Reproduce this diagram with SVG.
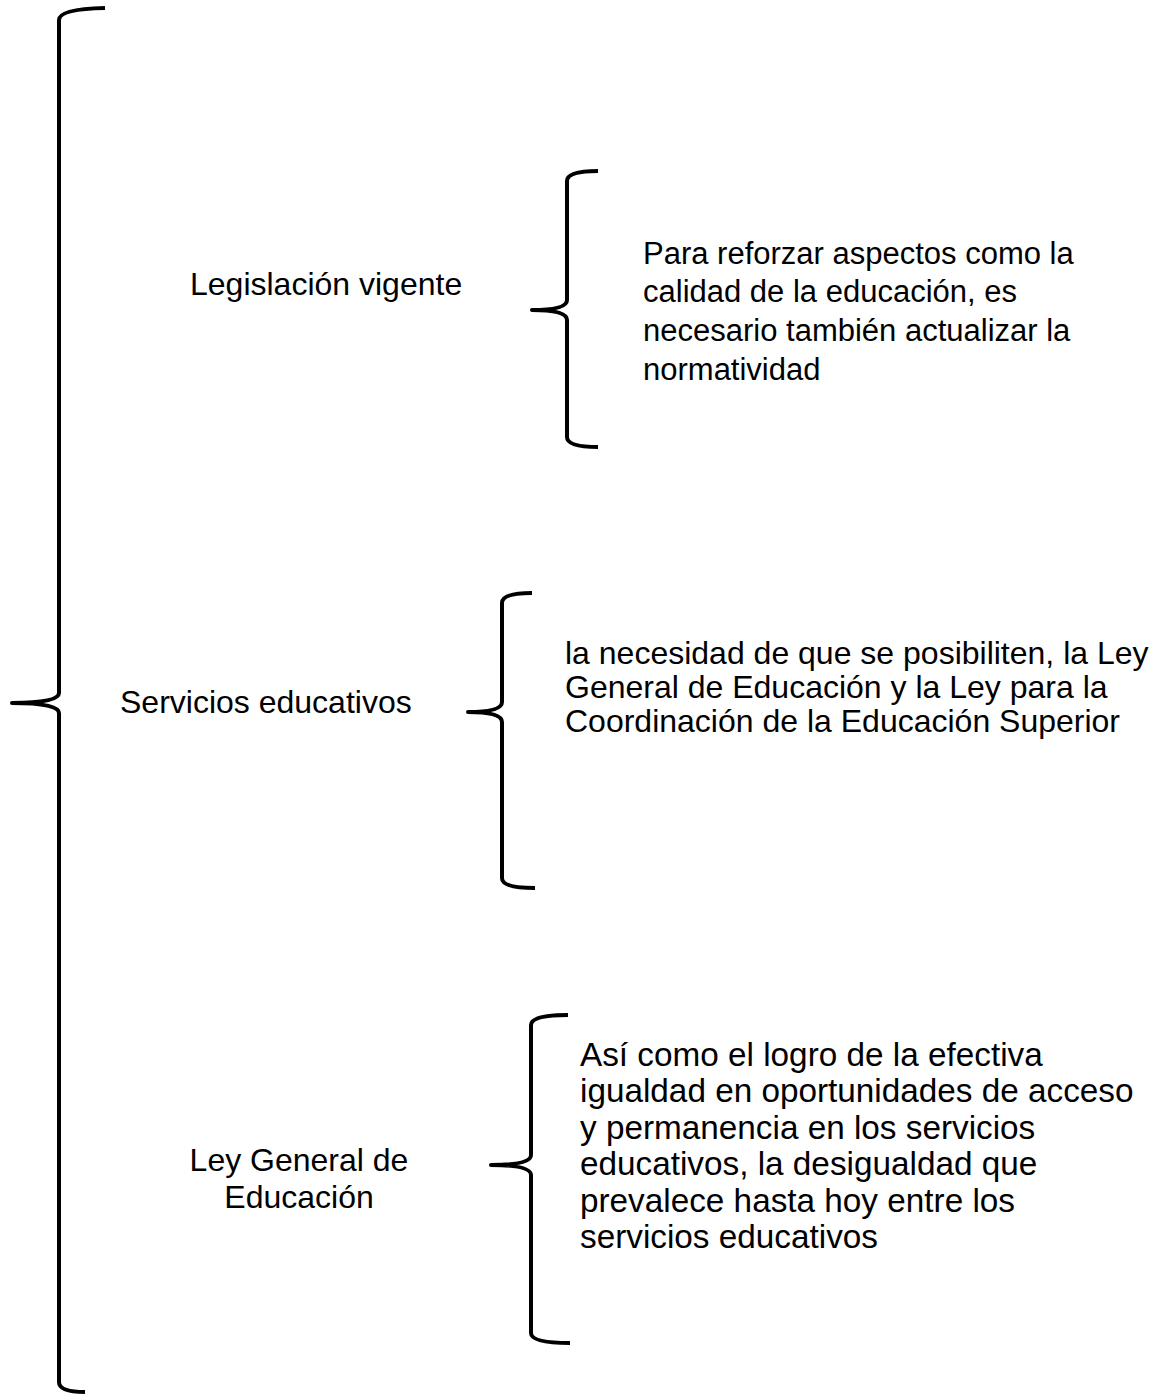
<svg xmlns="http://www.w3.org/2000/svg" width="1170" height="1395" viewBox="0 0 1170 1395">
<style>
.br{fill:none;stroke:#000;stroke-width:4;stroke-linecap:butt;stroke-linejoin:round}
.f{font-family:"Liberation Sans",Arial,sans-serif;fill:#000}
.l{font-size:32px}
.a{font-size:31px}
.b{font-size:32px}
.c{font-size:33.3px}
</style>
<rect width="1170" height="1395" fill="#fff"/>
<g id="connectors">
<path class="br" d="M105,8 Q59,9 59,20 V693 Q59,703 12,703 Q59,703 59,713 V1382 Q59,1392 85,1392"/>
<path class="br" d="M598,171 Q567,171 567,181 V300 Q567,310 532,310 Q567,310 567,320 V437 Q567,447 598,447"/>
<path class="br" d="M532,593 Q502,593 502,603 V702 Q502,712 468,712 Q502,712 502,722 V878 Q502,888 535,888"/>
<path class="br" d="M568,1015 Q531,1015 531,1025 V1155 Q531,1165 491,1165 Q531,1165 531,1175 V1333 Q531,1343 570,1343"/>
</g>
<g id="n-legislacion"><text class="f l" x="190" y="295">Legislación vigente</text></g>
<g id="n-legislacion-desc"><text class="f a"><tspan x="643" y="264">Para reforzar aspectos como la</tspan><tspan x="643" y="302">calidad de la educación, es</tspan><tspan x="643" y="341">necesario también actualizar la</tspan><tspan x="643" y="380">normatividad</tspan></text></g>
<g id="n-servicios"><text class="f l" x="120" y="713">Servicios educativos</text></g>
<g id="n-servicios-desc"><text class="f b"><tspan x="565" y="664">la necesidad de que se posibiliten, la Ley</tspan><tspan x="565" y="698">General de Educación y la Ley para la</tspan><tspan x="565" y="732">Coordinación de la Educación Superior</tspan></text></g>
<g id="n-ley"><text class="f l" text-anchor="middle"><tspan x="299" y="1171">Ley General de</tspan><tspan x="299" y="1208">Educación</tspan></text></g>
<g id="n-ley-desc"><text class="f c"><tspan x="580" y="1066">Así como el logro de la efectiva</tspan><tspan x="580" y="1102">igualdad en oportunidades de acceso</tspan><tspan x="580" y="1139">y permanencia en los servicios</tspan><tspan x="580" y="1175">educativos, la desigualdad que</tspan><tspan x="580" y="1212">prevalece hasta hoy entre los</tspan><tspan x="580" y="1248">servicios educativos</tspan></text></g>
</svg>
